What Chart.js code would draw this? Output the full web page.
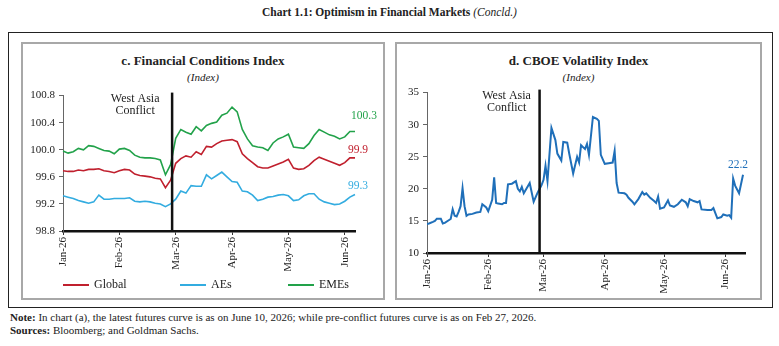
<!DOCTYPE html>
<html>
<head>
<meta charset="utf-8">
<script src="https://cdn.jsdelivr.net/npm/chart.js@4.4.1/dist/chart.umd.min.js"></script>
<style>
  body { margin: 0; width: 779px; height: 346px; background: #fff; position: relative; font-family: "Liberation Serif", serif; color: #222; overflow: hidden; }
  .abs { position: absolute; }
  .frame { left: 8px; top: 32px; width: 763px; height: 274px; border: 1px solid #222; }
  .panel { top: 42px; height: 254px; border: 2px solid #a8a8a8; }
  .ptitle { width: 100%; text-align: center; font-weight: bold; font-size: 13px; top: 9px; }
  .psub { width: 100%; text-align: center; font-style: italic; font-size: 11px; top: 27px; }
  canvas { position: absolute; }
</style>
</head>
<body>
<div class="abs" style="top:6px;left:0;width:779px;text-align:center;font-size:11.5px;font-weight:bold;">Chart 1.1: Optimism in Financial Markets <span style="font-weight:normal;font-style:italic;">(Concld.)</span></div>
<div class="abs frame"></div>

<div class="abs panel" style="left:21px;width:360px;">
  <div class="abs ptitle">c. Financial Conditions Index</div>
  <div class="abs psub">(Index)</div>
</div>
<div class="abs panel" style="left:395px;width:363px;">
  <div class="abs ptitle">d. CBOE Volatility Index</div>
  <div class="abs psub">(Index)</div>
</div>

<canvas id="fciChart" width="360" height="213" style="left:22px;top:85px;"></canvas>
<canvas id="vixChart" width="362" height="214" style="left:396px;top:82px;"></canvas>

<div class="abs" style="left:10px;top:311px;font-size:11px;"><b>Note:</b> In chart (a), the latest futures curve is as on June 10, 2026; while pre-conflict futures curve is as on Feb 27, 2026.</div>
<div class="abs" style="left:10px;top:324px;font-size:11px;"><b>Sources:</b> Bloomberg; and Goldman Sachs.</div>

<script>
// month tick labels
const monthLabels = ['Jan-26', 'Feb-26', 'Mar-26', 'Apr-26', 'May-26', 'Jun-26'];

// c. Financial Conditions Index (every second trading day, Jan 1 - Jun 10)
const fciPointsPerMonth = 11;
const fciConflict = 21.3;
const fciGlobal = [99.69, 99.68, 99.68, 99.70, 99.69, 99.71, 99.71, 99.72, 99.69, 99.68,
    99.66, 99.69, 99.71, 99.70, 99.64, 99.62, 99.61, 99.60, 99.58, 99.57,
    99.44, 99.55, 99.80, 99.87, 99.91, 99.89, 99.97, 99.93, 100.05, 100.04,
    100.09, 100.13, 100.14, 100.15, 100.12, 99.94, 99.87, 99.81, 99.75, 99.73,
    99.73, 99.76, 99.79, 99.82, 99.86, 99.73, 99.71, 99.72, 99.77, 99.84,
    99.89, 99.86, 99.83, 99.80, 99.77, 99.81, 99.88, 99.88];
const fciAEs = [99.32, 99.30, 99.28, 99.25, 99.23, 99.21, 99.23, 99.33, 99.27, 99.27,
    99.28, 99.28, 99.28, 99.29, 99.24, 99.23, 99.24, 99.23, 99.21, 99.20,
    99.16, 99.20, 99.27, 99.39, 99.36, 99.47, 99.46, 99.46, 99.63, 99.57,
    99.62, 99.67, 99.60, 99.53, 99.52, 99.39, 99.38, 99.33, 99.25, 99.27,
    99.30, 99.31, 99.33, 99.34, 99.32, 99.25, 99.26, 99.32, 99.35, 99.35,
    99.27, 99.23, 99.21, 99.19, 99.20, 99.24, 99.30, 99.34];
const fciEMEs = [99.98, 99.95, 99.97, 100.02, 100.00, 100.06, 100.05, 100.02, 99.99, 99.98,
    99.94, 100.01, 100.02, 99.99, 99.92, 99.89, 99.88, 99.88, 99.87, 99.85,
    99.63, 99.78, 100.17, 100.30, 100.26, 100.23, 100.34, 100.28, 100.36, 100.39,
    100.41, 100.51, 100.54, 100.63, 100.56, 100.30, 100.16, 100.06, 100.04, 100.03,
    99.99, 100.10, 100.16, 100.19, 100.23, 100.04, 100.03, 100.02, 100.09, 100.21,
    100.30, 100.26, 100.22, 100.20, 100.16, 100.19, 100.27, 100.27];

// d. CBOE Volatility Index (days since Jan 1, 2026)
const monthStartDays = [0, 31, 59, 90, 120, 151];
const vixConflictDay = 57;
const vixDays = [0, 1, 3, 4, 5, 7, 8, 9, 11, 12, 13, 14, 15, 16, 17, 18, 19, 20, 21, 23,
    25, 27, 28, 30, 31, 33, 34, 35, 36, 38, 39, 40, 41, 43, 45, 46, 47, 48, 49, 52,
    54, 56, 58, 59, 60, 61, 63, 65, 66, 68, 69, 71, 72, 74, 76, 77, 78, 79, 80, 81,
    82, 84, 86, 87, 88, 90, 92, 94, 95, 96, 97, 100, 101, 102, 104, 105, 107, 109, 110, 111,
    113, 115, 116, 117, 118, 120, 122, 123, 125, 127, 129, 131, 132, 133, 135, 137, 138, 139, 142, 144,
    145, 147, 149, 150, 152, 153, 154, 155, 156, 158, 160];
const vixValues = [14.5, 14.6, 14.85, 15.0, 15.35, 15.35, 14.6, 14.7, 15.1, 15.3,
    16.8, 15.8, 15.7, 16.4, 17.3, 20.1, 17.3, 15.8, 16.0, 16.1,
    16.3, 16.4, 17.6, 17.1, 16.5, 18.3, 21.8, 17.8, 17.7, 17.6,
    17.8, 17.8, 20.7, 20.8, 21.2, 20.0, 19.6, 20.3, 19.3, 20.9,
    18.0, 19.4, 20.6, 21.4, 23.6, 21.2, 29.5, 27.6, 25.5, 24.4,
    27.3, 27.2, 25.5, 22.4, 25.0, 24.1, 26.8, 26.5, 26.2, 27.0,
    25.3, 31.2, 30.9, 30.6, 25.3, 23.9, 24.0, 24.1, 25.9, 20.9,
    19.4, 19.3, 19.1, 18.6, 18.0, 17.6, 18.4, 19.5, 19.1, 19.3,
    18.6, 18.1, 17.8, 18.8, 16.9, 17.1, 18.2, 17.4, 17.2, 17.6,
    18.3, 17.9, 17.3, 18.4, 18.1, 17.9, 18.1, 16.8, 16.7, 16.7,
    17.0, 15.4, 15.6, 16.0, 15.8, 15.9, 15.5, 21.6, 20.5, 19.3,
    22.2];

const FONT = '"Liberation Serif", serif';
Chart.defaults.font.family = FONT;
Chart.defaults.color = '#222';

// conflict marker + last value labels
const annotations = {
    id: 'annotations',
    afterDatasetsDraw(chart, args, opts) {
        const { ctx, chartArea } = chart;
        const x = chart.scales.x;
        const px = x.getPixelForValue(opts.conflict);
        ctx.save();
        ctx.strokeStyle = '#111';
        ctx.lineWidth = 2.5;
        ctx.beginPath();
        ctx.moveTo(px, chartArea.top - 3);
        ctx.lineTo(px, chartArea.bottom + 1);
        ctx.stroke();

        ctx.font = '12px ' + FONT;
        ctx.fillStyle = '#222';
        ctx.textAlign = 'center';
        ctx.textBaseline = 'middle';
        ctx.fillText('West Asia', px - opts.textDx, chartArea.top + 3);
        ctx.fillText('Conflict', px - opts.textDx, chartArea.top + 15);

        ctx.font = '11.5px ' + FONT;
        chart.data.datasets.forEach(function (ds, i) {
            const pts = chart.getDatasetMeta(i).data;
            const last = pts[pts.length - 1];
            const raw = ds.data[ds.data.length - 1];
            const v = typeof raw === 'object' ? raw.y : raw;
            ctx.fillStyle = ds.borderColor;
            ctx.fillText(v.toFixed(1), last.x + ds.labelDx, last.y + ds.labelDy);
        });
        ctx.restore();
    }
};

// legend laid out in one spaced row under the axis
const rowLegend = {
    id: 'rowLegend',
    afterDraw(chart, args, opts) {
        if (!opts.offsets) return;
        const { ctx, chartArea } = chart;
        const y = chart.height - opts.bottom;
        ctx.save();
        ctx.font = '12px ' + FONT;
        ctx.textBaseline = 'middle';
        ctx.textAlign = 'left';
        chart.data.datasets.forEach(function (ds, i) {
            const x0 = chartArea.left + opts.offsets[i];
            ctx.strokeStyle = ds.borderColor;
            ctx.lineWidth = 2;
            ctx.beginPath();
            ctx.moveTo(x0, y);
            ctx.lineTo(x0 + 26, y);
            ctx.stroke();
            ctx.fillStyle = '#222';
            ctx.fillText(ds.label, x0 + 31, y);
        });
        ctx.restore();
    }
};

const tickFont = { family: FONT, size: 11 };

document.addEventListener('DOMContentLoaded', function () {
    const fciCtx = document.getElementById('fciChart').getContext('2d');
    const vixCtx = document.getElementById('vixChart').getContext('2d');

    new Chart(fciCtx, {
        type: 'line',
        data: {
            labels: fciGlobal.map(function (_, i) { return i; }),
            datasets: [{
                label: 'Global',
                data: fciGlobal,
                borderColor: '#c0202e',
                borderWidth: 1.6,
                pointRadius: 0,
                tension: 0,
                labelDx: 3, labelDy: -8
            }, {
                label: 'AEs',
                data: fciAEs,
                borderColor: '#33ace0',
                borderWidth: 1.6,
                pointRadius: 0,
                tension: 0,
                labelDx: 3, labelDy: -8
            }, {
                label: 'EMEs',
                data: fciEMEs,
                borderColor: '#22a24a',
                borderWidth: 1.6,
                pointRadius: 0,
                tension: 0,
                labelDx: 9, labelDy: -15
            }]
        },
        options: {
            responsive: false,
            animation: false,
            devicePixelRatio: 1,
            layout: { padding: { top: 7, right: 27, bottom: 27, left: 0 } },
            plugins: {
                legend: { display: false },
                tooltip: { enabled: false },
                annotations: { conflict: fciConflict, textDx: 37 },
                rowLegend: { offsets: [0, 117, 225], bottom: 13 }
            },
            scales: {
                x: {
                    type: 'category',
                    offset: false,
                    afterFit: function (s) { s.height = 40; },
                    border: { color: '#111', width: 2.5 },
                    grid: { drawOnChartArea: false, tickLength: 4, color: '#333' },
                    ticks: {
                        autoSkip: false, minRotation: 90, maxRotation: 90, padding: 2, font: tickFont,
                        callback: function (v, i) {
                            return i % fciPointsPerMonth === 0 ? monthLabels[i / fciPointsPerMonth] : null;
                        }
                    }
                },
                y: {
                    min: 98.8,
                    max: 100.8,
                    afterFit: function (s) { s.width = 41; },
                    border: { color: '#666', width: 1 },
                    grid: { drawOnChartArea: false, tickLength: 4, color: '#666' },
                    ticks: {
                        stepSize: 0.4, padding: 4, font: tickFont,
                        callback: function (v) { return v.toFixed(1); }
                    }
                }
            }
        },
        plugins: [annotations, rowLegend]
    });

    new Chart(vixCtx, {
        type: 'line',
        data: {
            datasets: [{
                label: 'VIX',
                data: vixDays.map(function (d, i) { return { x: d, y: vixValues[i] }; }),
                borderColor: '#1f6fb9',
                borderWidth: 2,
                pointRadius: 0,
                tension: 0,
                labelDx: -5, labelDy: -10
            }]
        },
        options: {
            responsive: false,
            animation: false,
            devicePixelRatio: 1,
            layout: { padding: { top: 7, right: 13, bottom: 3, left: 0 } },
            plugins: {
                legend: { display: false },
                tooltip: { enabled: false },
                annotations: { conflict: vixConflictDay, textDx: 33 },
                rowLegend: {}
            },
            scales: {
                x: {
                    type: 'linear',
                    min: 0,
                    max: 161,
                    afterBuildTicks: function (s) {
                        s.ticks = monthStartDays.map(function (d) { return { value: d }; });
                    },
                    afterFit: function (s) { s.height = 40; },
                    border: { color: '#111', width: 2.5 },
                    grid: { drawOnChartArea: false, tickLength: 4, color: '#333' },
                    ticks: {
                        autoSkip: false, minRotation: 90, maxRotation: 90, padding: 2, font: tickFont,
                        callback: function (v) { return monthLabels[monthStartDays.indexOf(v)]; }
                    }
                },
                y: {
                    min: 10,
                    max: 35,
                    afterFit: function (s) { s.width = 31; },
                    border: { color: '#666', width: 1 },
                    grid: { drawOnChartArea: false, tickLength: 4, color: '#666' },
                    ticks: { stepSize: 5, padding: 4, font: tickFont }
                }
            }
        },
        plugins: [annotations, rowLegend]
    });
});
</script>
</body>
</html>
